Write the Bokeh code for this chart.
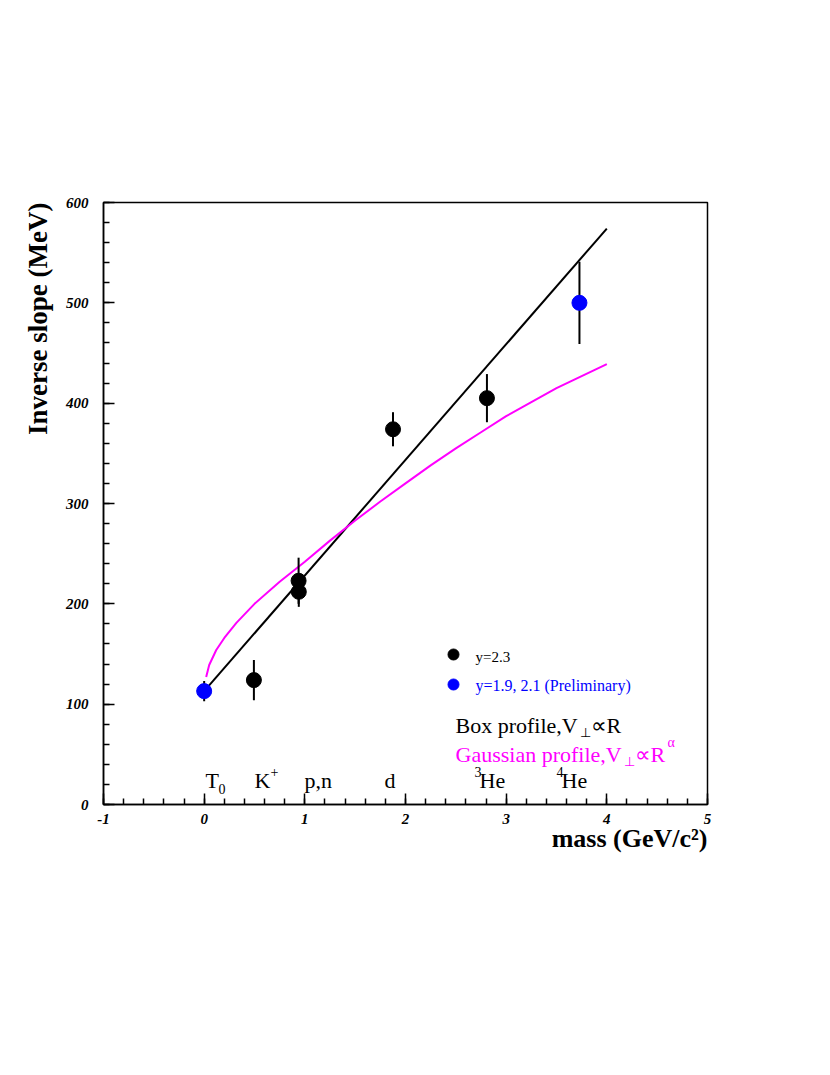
from bokeh.plotting import figure
from bokeh.models import Range1d, Label, SingleIntervalTicker, Title
from bokeh.embed import file_html
from bokeh.resources import INLINE

# ---- data ----
black_mass = [0.494, 0.938, 0.940, 1.876, 2.809]
black_slope = [124, 223, 212, 374, 405]
black_err = [20, 23, 15, 17, 24]

blue_mass = [0.0, 3.728]
blue_slope = [113, 500]
blue_err = [10, 41]

box_mass = [0.0, 4.0]
box_slope = [113, 574]

gauss_mass = [0.02, 0.05, 0.12, 0.2, 0.32, 0.5, 0.75, 1.0, 1.25, 1.5, 1.75,
              2.0, 2.25, 2.5, 2.75, 3.0, 3.25, 3.5, 3.75, 4.0]
gauss_slope = [127, 139, 154, 166, 181, 200, 222, 242, 263, 283, 302,
               320, 338, 355, 371, 387, 401, 415, 427, 439]

particles = ["T", "K", "p,n", "d", "He", "He"]

FONT = "Liberation Serif"

p = figure(width=822, height=1067, x_range=Range1d(-1, 5), y_range=Range1d(0, 600),
           output_backend="svg", toolbar_location=None,
           min_border_left=103, min_border_right=115, min_border_top=202, min_border_bottom=263)
p.background_fill_color = "white"
p.border_fill_color = "white"
p.grid.visible = False
p.outline_line_color = "black"
p.outline_line_width = 1.5

for ax, interval in ((p.xaxis, 1), (p.yaxis, 100)):
    ax.ticker = SingleIntervalTicker(interval=interval, num_minor_ticks=5)
    ax.axis_line_width = 1.5
    ax.axis_line_color = "black"
    ax.major_tick_in = 11
    ax.major_tick_out = 0
    ax.minor_tick_in = 6
    ax.minor_tick_out = 0
    ax.major_tick_line_width = 1.5
    ax.minor_tick_line_width = 1.5
    ax.major_tick_line_color = "black"
    ax.minor_tick_line_color = "black"
    ax.major_label_text_font = FONT
    ax.major_label_text_font_style = "bold italic"
    ax.major_label_text_font_size = "15px"
    ax.major_label_text_color = "black"
p.xaxis.major_label_standoff = 9
p.yaxis.major_label_standoff = 15
p.xaxis.major_label_overrides = {-1: "-1"}

# axis titles (ROOT style, at the far end of each axis)
ytitle = Title(text="Inverse slope (MeV)", align="right", text_font=FONT,
               text_font_size="27px", text_font_style="bold", text_color="black",
               standoff=20)
p.add_layout(ytitle, "left")

xtitle = Title(text="mass (GeV/c\u00b2)", align="right", text_font=FONT,
               text_font_size="26px", text_font_style="bold", text_color="black",
               standoff=0)
try:
    xtitle.standoff = -10
except ValueError:
    pass
p.add_layout(xtitle, "below")

# curves
p.line(box_mass, box_slope, line_color="black", line_width=2)
p.line(gauss_mass, gauss_slope, line_color="#ff00ff", line_width=2)

# error bars
p.segment(black_mass, [y - e for y, e in zip(black_slope, black_err)],
          black_mass, [y + e for y, e in zip(black_slope, black_err)],
          line_color="black", line_width=2)
p.segment(blue_mass, [y - e for y, e in zip(blue_slope, blue_err)],
          blue_mass, [y + e for y, e in zip(blue_slope, blue_err)],
          line_color="black", line_width=2)

p.scatter(black_mass, black_slope, size=15, color="black")
p.scatter(blue_mass, blue_slope, size=15, color="#0000ff")


def X(px):
    return -1 + (px - 103) * 6 / 604


def Y(py):
    return (804 - py) * 600 / 602


def lab(px, py, text, size, color="black", style="normal", align="left", angle=0.0):
    p.add_layout(Label(x=X(px), y=Y(py), text=text, text_font=FONT,
                       text_font_size=f"{size}px", text_color=color,
                       text_font_style=style, text_align=align,
                       text_baseline="alphabetic", angle=angle))


# particle labels
lab(205, 780, particles[0], 22)
lab(218, 788, "0", 14)
lab(254, 780, particles[1], 22)
lab(270, 771, "+", 14)
lab(304, 780, particles[2], 22)
lab(384, 780, particles[3], 22)
lab(474, 771, "3", 14)
lab(479, 780, particles[4], 22)
lab(556, 771, "4", 14)
lab(561, 780, particles[5], 22)

# legend
p.scatter([X(453)], [Y(654)], size=11, color="black")
p.scatter([X(453)], [Y(684)], size=11, color="#0000ff")
lab(475, 656, "y=2.3", 15)
lab(475, 685, "y=1.9, 2.1 (Preliminary)", 16, color="#0000ff")

lab(455, 725, "Box profile,V", 22)
lab(579, 732, "\u22a5", 13)
lab(590, 725, "\u221dR", 22)

MAG = "#ff00ff"
lab(455, 754, "Gaussian profile,V", 22, color=MAG)
lab(623, 761, "\u22a5", 13, color=MAG)
lab(634, 754, "\u221dR", 22, color=MAG)
lab(667, 742, "\u03b1", 14, color=MAG)

open("out.html", "w").write(file_html(p, INLINE))
